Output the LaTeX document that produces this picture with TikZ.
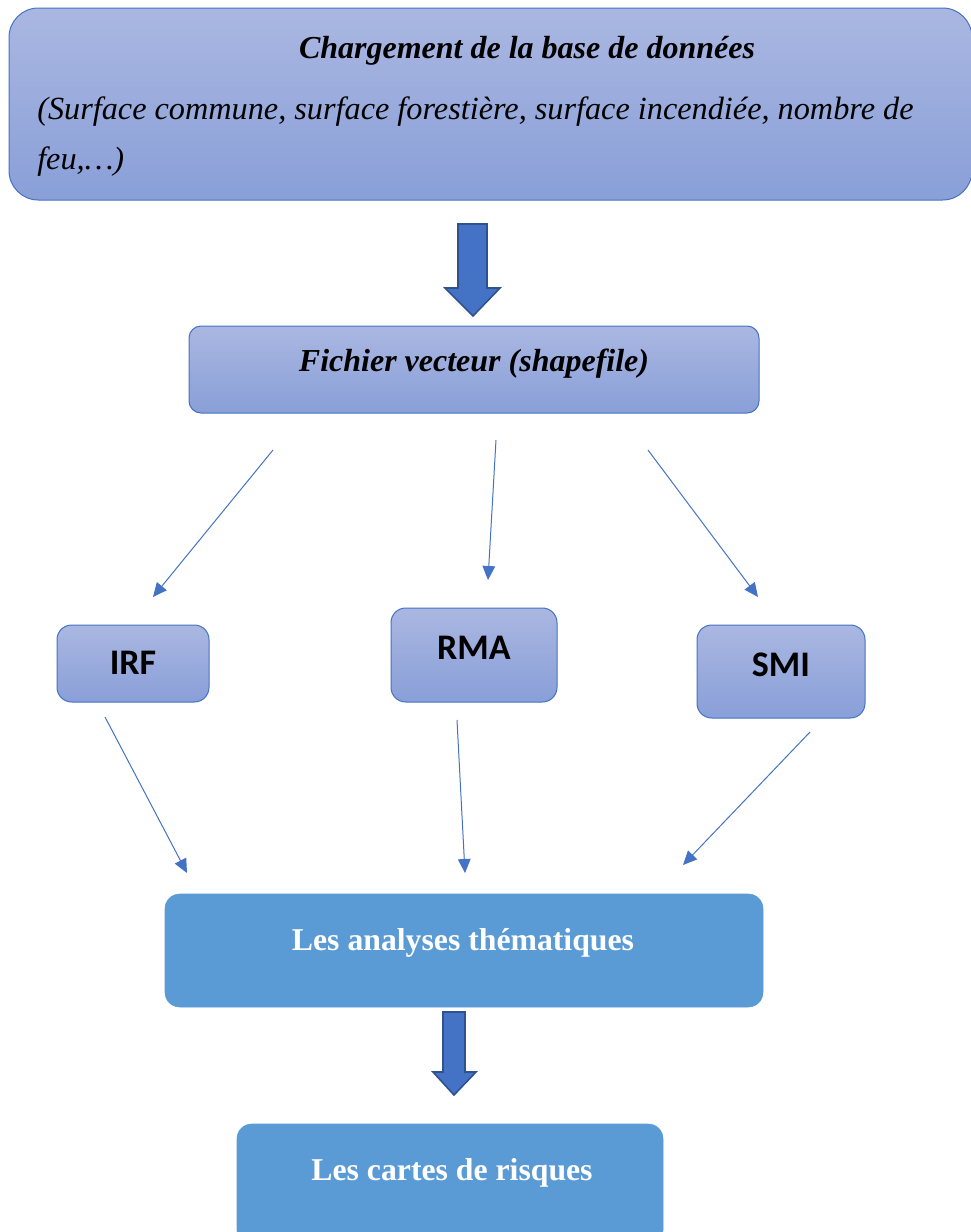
\documentclass[tikz,border=0pt]{standalone}
\usepackage{fontspec}
\setmainfont{Liberation Serif}
\newfontfamily\calibri{Carlito}
\usetikzlibrary{arrows.meta, calc, fit}

\definecolor{boxtop}{RGB}{170,183,225}
\definecolor{boxbot}{RGB}{137,159,216}
\definecolor{boxline}{RGB}{68,114,196}
\definecolor{arrowblue}{RGB}{68,114,196}
\definecolor{arrowedge}{RGB}{47,82,143}
\definecolor{solidblue}{RGB}{91,155,213}

\begin{document}
\begin{tikzpicture}[
        x=0.75pt, y=-0.75pt,
        gradbox/.style={rectangle, draw=boxline, line width=0.75pt, top color=boxtop, bottom color=boxbot,
          rounded corners=9pt, inner sep=0pt},
        solidbox/.style={rectangle, draw=solidblue, fill=solidblue, rounded corners=11pt, inner sep=0pt},
        titletxt/.style={font=\fontsize{24}{37}\selectfont\bfseries\itshape, inner sep=0pt},
        subtxt/.style={font=\fontsize{24.2}{37.5}\selectfont\itshape, align=left, inner sep=0pt},
        codetxt/.style={font=\calibri\fontsize{27}{30}\selectfont\bfseries, inner sep=0pt},
        whitetxt/.style={font=\fontsize{23.8}{30}\selectfont\bfseries, text=white, inner sep=0pt},
        arrow/.style={-{Triangle[length=10.5pt,width=9.5pt]}, line width=0.75pt, draw=arrowblue},
        blockarrow/.style={fill=arrowblue, draw=arrowedge, line width=1.2pt, line join=miter}
      ]
        \clip (0,0) rectangle (971,1232);
        \useasboundingbox (0,0) rectangle (971,1232);

        % base de donnees
        \node[gradbox, rounded corners=22pt, fit={(9,8)(972,200)}] (base) {};
        \node[titletxt] at (527,51) (basetitle) {Chargement de la base de données};
        \node[subtxt, anchor=west] at (37,137) (basetext) {(Surface commune, surface forestière, surface incendiée, nombre de\\feu,…)};

        \draw[blockarrow] (458,224) -- (487,224) -- (487,288) -- (500,288) -- (473,316) -- (445,288) -- (458,288) -- cycle;

        % shapefile
        \node[gradbox, fit={(189,326)(759,413)}] (fichier) {};
        \node[titletxt] at ($(fichier.center)+(0,-6)$) (fichiertxt) {Fichier vecteur (shapefile)};

        % indices
        \node[gradbox, rounded corners=11pt, fit={(57,625)(209,702)}] (irf) {};
        \node[codetxt] at (133,663) {IRF};
        \node[gradbox, rounded corners=11pt, fit={(391,608)(557,702)}] (rma) {};
        \node[codetxt] at (474,648) {RMA};
        \node[gradbox, rounded corners=11pt, fit={(697,625)(865,718)}] (smi) {};
        \node[codetxt] at (781,665) {SMI};

        \coordinate (f1) at (273,450);
        \coordinate (f2) at (496,440);
        \coordinate (f3) at (648,450);
        \coordinate (irfin) at (153,597);
        \coordinate (rmain) at (488,580);
        \coordinate (smiin) at (758,597);
        \draw[arrow] (f1) -- (irfin);
        \draw[arrow] (f2) -- (rmain);
        \draw[arrow] (f3) -- (smiin);

        \coordinate (irfout) at (105,717);
        \coordinate (rmaout) at (457,720);
        \coordinate (smiout) at (810,732);
        \coordinate (a1) at (187,873);
        \coordinate (a2) at (465,873);
        \coordinate (a3) at (683,865);
        \draw[arrow] (irfout) -- (a1);
        \draw[arrow] (rmaout) -- (a2);
        \draw[arrow] (smiout) -- (a3);

        % analyses et cartes
        \node[solidbox, fit={(165,894)(763,1007)}] (analyses) {};
        \node[whitetxt] at (463,943) {Les analyses thématiques};

        \draw[blockarrow] (443,1012) -- (465,1012) -- (465,1072) -- (476,1072) -- (454,1095) -- (433,1072) -- (443,1072) -- cycle;

        \node[solidbox, fit={(237,1124)(663,1245)}] (cartes) {};
        \node[whitetxt] at (452,1173) {Les cartes de risques};
      \end{tikzpicture}
\end{document}
